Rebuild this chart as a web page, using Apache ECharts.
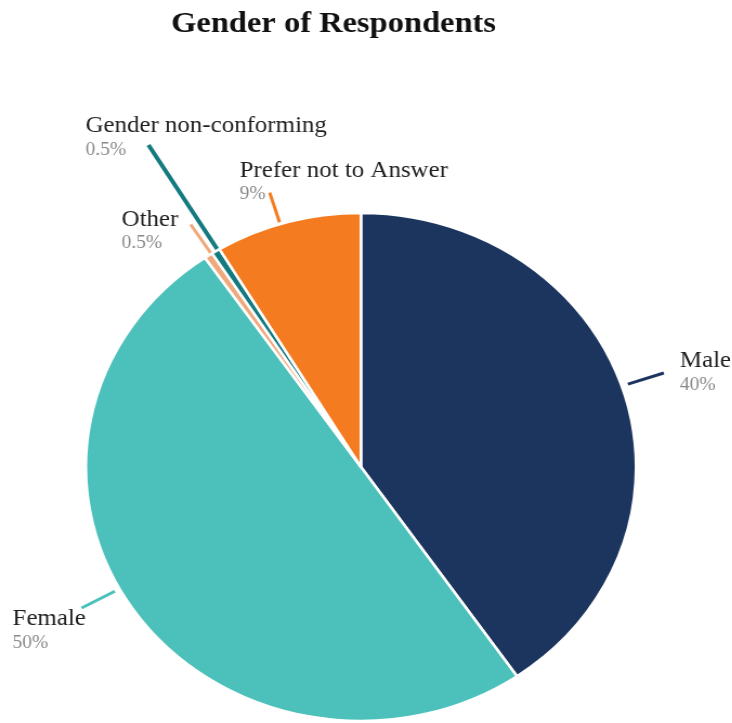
<!DOCTYPE html>
<html><head><meta charset="utf-8">
<script src="https://cdn.jsdelivr.net/npm/echarts@6/dist/echarts.min.js"></script>
<style>
html,body{margin:0;padding:0;background:#fff;overflow:hidden}
#chart{width:676px;height:723px;transform:scaleX(1.083);transform-origin:0 0;}
</style>
</head><body><div id="chart"></div>
<script>
const titleText = 'Gender of Respondents';
const categories = ['Male', 'Female', 'Other', 'Gender non-conforming', 'Prefer not to Answer'];
const values = [40.4, 50, 0.5, 0.5, 8.6];
const colors = ['#1c355e', '#4cc0bb', '#f0a97c', '#137a80', '#f47b20'];

// geometry / style (unscaled coordinates)
const CX = 333.3, CY = 467, R = 254;
const lineShift = [-1.3, 5.9, 0.7, 0.5, -1.6];
const lineGap = [6, 5, 0, -2, 2];
const lineLen = [41, 40, 35, 123, 33];
const lineWidth = [3, 3, 3, 4, 3];
const textDx = [14.8, -63.7, -63.7, -58.2, -27.7];
const textDy = [-25, -2, -18, -32, -35];

const total = values.reduce((a, b) => a + b, 0);
const mids = [];
let acc = 0;
values.forEach(v => { const span = v / total * 360; mids.push(acc + span / 2); acc += span; });

const chart = echarts.init(document.getElementById('chart'));
chart.setOption({
  animation: false,
  title: {
    text: titleText, left: 153, top: 4,
    textStyle: { fontFamily: 'Liberation Serif', fontWeight: 'bold', fontSize: 30, color: '#111' }
  },
  series: [{
    type: 'pie',
    center: [CX, CY],
    radius: R,
    startAngle: 90,
    clockwise: true,
    avoidLabelOverlap: false,
    itemStyle: { borderColor: '#fff', borderWidth: 2.5 },
    data: categories.map((c, i) => ({
      name: c, value: values[i],
      itemStyle: { color: colors[i] },
      labelLine: { lineStyle: { width: lineWidth[i], color: colors[i] } }
    })),
    label: {
      show: true,
      position: 'outside',
      formatter: p => '{n|' + p.name + '}\n{p|' + (p.value >= 1 ? Math.round(p.value) : p.value) + '%}',
      rich: {
        n: { fontFamily: 'Liberation Serif', fontSize: 23, lineHeight: 26, color: '#1e1e1e' },
        p: { fontFamily: 'Liberation Serif', fontSize: 18, lineHeight: 22, color: '#8a8a8a' }
      }
    },
    labelLine: { show: true, length: 10, length2: 0, smooth: false },
    labelLayout: function (params) {
      const i = params.dataIndex;
      const a = (mids[i] + lineShift[i]) * Math.PI / 180;
      const r0 = R + lineGap[i], r1 = R + lineLen[i];
      const sx = CX + r0 * Math.sin(a), sy = CY - r0 * Math.cos(a);
      const ex = CX + r1 * Math.sin(a), ey = CY - r1 * Math.cos(a);
      return {
        x: ex + textDx[i], y: ey + textDy[i],
        align: 'left', verticalAlign: 'top',
        labelLinePoints: [[sx, sy], [ex, ey]]
      };
    }
  }]
});
</script>
</body></html>
